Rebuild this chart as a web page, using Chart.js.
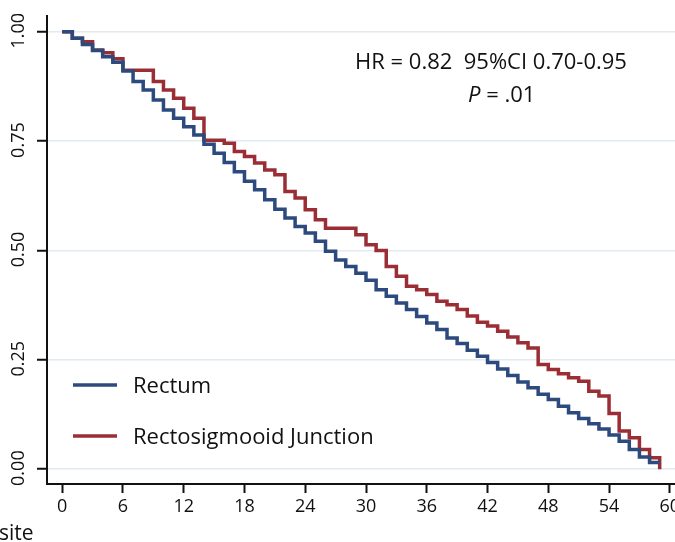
<!DOCTYPE html>
<html><head><meta charset="utf-8">
<script src="https://cdn.jsdelivr.net/npm/chart.js@4/dist/chart.umd.min.js"></script>
<style>
html,body{margin:0;padding:0;overflow:hidden;background:#fff;width:675px;height:542px}
#wrap{position:absolute;left:0;top:0;width:700px;height:542px}
</style>
</head><body><div id="wrap"><canvas id="c"></canvas></div>
<script>
// ---- data (survival probability by month) ----
const months = [0,1,2,3,4,5,6,7,8,9,10,11,12,13,14,15,16,17,18,19,20,21,22,23,24,25,26,27,28,29,30,31,32,33,34,35,36,37,38,39,40,41,42,43,44,45,46,47,48,49,50,51,52,53,54,55,56,57,58,59];
const rectum = [1.000,0.985,0.971,0.957,0.943,0.930,0.910,0.886,0.867,0.844,0.821,0.802,0.783,0.764,0.743,0.722,0.701,0.680,0.658,0.639,0.616,0.594,0.574,0.555,0.540,0.521,0.498,0.478,0.463,0.448,0.432,0.410,0.395,0.380,0.365,0.349,0.334,0.319,0.300,0.287,0.272,0.258,0.244,0.229,0.214,0.199,0.186,0.171,0.159,0.144,0.129,0.116,0.104,0.092,0.078,0.064,0.045,0.028,0.015,0.015];
const rectosigmoid = [1.000,0.985,0.977,0.958,0.952,0.938,0.912,0.912,0.912,0.886,0.867,0.848,0.825,0.802,0.752,0.752,0.745,0.726,0.715,0.700,0.684,0.673,0.635,0.620,0.593,0.570,0.551,0.551,0.551,0.536,0.513,0.500,0.463,0.441,0.418,0.410,0.399,0.384,0.376,0.365,0.350,0.336,0.327,0.315,0.302,0.289,0.277,0.239,0.228,0.218,0.209,0.201,0.178,0.167,0.127,0.087,0.072,0.045,0.026,0.000];
const seriesNames = ['Rectum','Rectosigmooid Junction'];
const xTicks = [0,6,12,18,24,30,36,42,48,54,60];
const yTicks = [0,0.25,0.5,0.75,1];
const statLine1 = 'HR = 0.82  95%CI 0.70-0.95';
const statP = 'P';
const statLine2 = ' = .01';
const bottomNote = 'site';

const FONT = "'Open Sans', 'Noto Sans', sans-serif";
const COLORS = ['#2c4a7e', '#9a2e34'];
const toPts = vals => months.map((m, i) => ({x: m, y: vals[i]}));

const decor = {
  id: 'decor',
  afterDraw(chart) {
    const ctx = chart.ctx;
    const ys = chart.scales.y;
    ctx.save();
    ctx.fillStyle = '#111';
    // rotated y tick labels
    ctx.font = '18px ' + FONT;
    ctx.textAlign = 'center';
    ctx.textBaseline = 'middle';
    yTicks.forEach(v => {
      const py = ys.getPixelForValue(v);
      ctx.save();
      ctx.translate(19, py - 1);
      ctx.rotate(-Math.PI / 2);
      ctx.fillText(v.toFixed(2), 0, 0);
      ctx.restore();
    });
    // annotation
    ctx.textAlign = 'left';
    ctx.textBaseline = 'alphabetic';
    ctx.font = '22px ' + FONT;
    ctx.fillText(statLine1, 355, 69);
    ctx.font = 'italic 22px ' + FONT;
    ctx.fillText(statP, 468, 102);
    const pw = ctx.measureText(statP).width;
    ctx.font = '22px ' + FONT;
    ctx.fillText(statLine2, 468 + pw, 102);
    // legend
    const legY = [385, 436];
    chart.data.datasets.forEach((ds, i) => {
      ctx.strokeStyle = ds.borderColor;
      ctx.lineWidth = 3.5;
      ctx.beginPath();
      ctx.moveTo(73, legY[i]);
      ctx.lineTo(117, legY[i]);
      ctx.stroke();
      ctx.font = '22px ' + FONT;
      ctx.textBaseline = 'middle';
      ctx.fillText(ds.label, 133, legY[i] + 2);
    });
    // bottom note
    ctx.textBaseline = 'alphabetic';
    ctx.font = '21px ' + FONT;
    ctx.fillText(bottomNote, -1, 540);
    ctx.restore();
  }
};

new Chart(document.getElementById('c'), {
  type: 'line',
  data: {
    datasets: [
      {label: seriesNames[0], data: toPts(rectum), borderColor: COLORS[0], backgroundColor: COLORS[0], borderWidth: 3.5, pointRadius: 0, stepped: 'before', fill: false},
      {label: seriesNames[1], data: toPts(rectosigmoid), borderColor: COLORS[1], backgroundColor: COLORS[1], borderWidth: 3.5, pointRadius: 0, stepped: 'before', fill: false}
    ]
  },
  options: {
    responsive: true,
    maintainAspectRatio: false,
    animation: false,
    layout: {padding: {top: 16, right: 15, left: 0, bottom: 0}},
    plugins: {legend: {display: false}, tooltip: {enabled: false}},
    scales: {
      x: {
        type: 'linear', min: -1.5, max: 61.5,
        afterBuildTicks: s => { s.ticks = xTicks.map(v => ({value: v})); },
        afterFit: s => { s.height = 58; },
        grid: {display: true, drawOnChartArea: false, tickLength: 9, tickColor: '#111', tickWidth: 2},
        border: {display: true, color: '#111', width: 2},
        ticks: {font: {family: FONT, size: 18}, color: '#111', padding: 3, maxRotation: 0, autoSkip: false}
      },
      y: {
        type: 'linear', min: -0.034, max: 1.036,
        afterBuildTicks: s => { s.ticks = yTicks.map(v => ({value: v})); },
        afterFit: s => { s.width = 47; },
        grid: {display: true, color: '#e3eaf0', lineWidth: 1.5, tickLength: 10, tickColor: '#111', tickWidth: 2},
        border: {display: true, color: '#111', width: 2},
        ticks: {display: false}
      }
    }
  },
  plugins: [decor]
});
</script>
</body></html>
